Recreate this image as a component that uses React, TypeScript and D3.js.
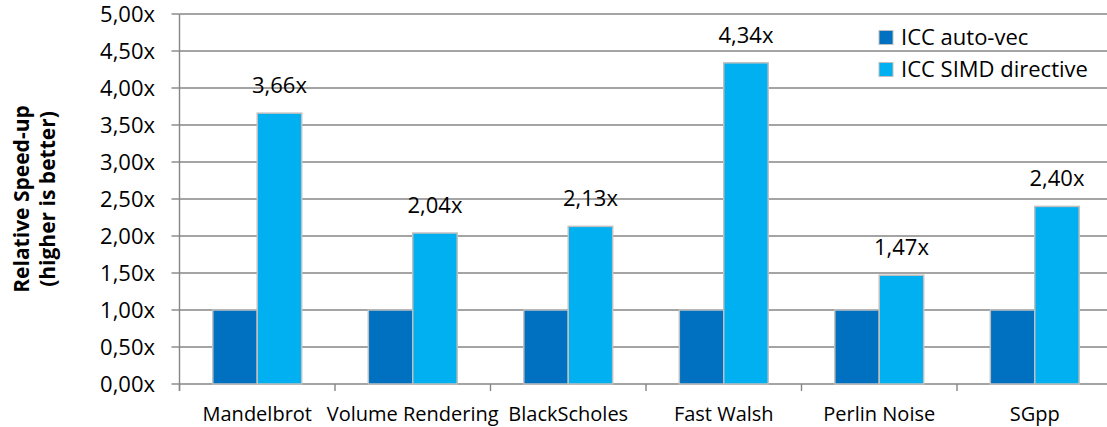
import React from 'react';
import * as d3 from 'd3';

const categories = ['Mandelbrot', 'Volume Rendering', 'BlackScholes', 'Fast Walsh', 'Perlin Noise', 'SGpp'];
const seriesNames = ['ICC auto-vec', 'ICC SIMD directive'];
const autoVec = [1, 1, 1, 1, 1, 1];
const simdDirective = [3.66, 2.04, 2.13, 4.34, 1.47, 2.4];
const yTicks = [0, 0.5, 1, 1.5, 2, 2.5, 3, 3.5, 4, 4.5, 5];

const colors = ['#0070C0', '#00B0F0'];
const FONT = '"Open Sans", "Noto Sans", sans-serif';

const fmt = (v: number) => v.toFixed(2).replace('.', ',') + 'x';

export default function App() {
  const width = 1107;
  const height = 427;
  const margin = { left: 179.5, right: 1112.5, top: 14, bottom: 384 };

  const x = d3.scaleBand<string>().domain(categories).range([margin.left, margin.right]).padding(0);
  const bw = x.bandwidth();
  const gap = (bw * 0.75) / 3.5;
  const inner = d3.scaleBand<string>().domain(seriesNames).range([gap, bw - gap]).padding(0);
  const y = d3.scaleLinear().domain([0, 5]).range([margin.bottom, margin.top]);

  const values = [autoVec, simdDirective];
  const boundaries = d3.range(categories.length + 1).map((i) => margin.left + i * bw);
  const axisColor = '#868686';

  return (
    <svg
      width={width}
      height={height}
      style={{ position: 'absolute', left: 0, top: 0, background: '#fff' }}
      fontFamily={FONT}
    >
      {/* gridlines */}
      {yTicks.map((t) => (
        <line key={'g' + t} x1={margin.left} x2={width} y1={y(t)} y2={y(t)} stroke={axisColor} strokeWidth={1.4} />
      ))}
      {/* y axis */}
      <line x1={margin.left} x2={margin.left} y1={margin.top} y2={margin.bottom + 7} stroke={axisColor} strokeWidth={1.4} />
      {yTicks.map((t) => (
        <g key={'t' + t}>
          <line x1={margin.left - 8} x2={margin.left} y1={y(t)} y2={y(t)} stroke={axisColor} strokeWidth={1.4} />
          <text x={155} y={y(t)} dy="0.36em" textAnchor="end" fontSize={22} fill="#000">
            {fmt(t)}
          </text>
        </g>
      ))}
      {/* x ticks */}
      {boundaries.map((b, i) => (
        <line key={'xb' + i} x1={b} x2={b} y1={margin.bottom} y2={margin.bottom + 7} stroke={axisColor} strokeWidth={1.4} />
      ))}
      {/* bars */}
      {categories.map((c, ci) => (
        <g key={c}>
          {seriesNames.map((s, si) => {
            const v = values[si][ci];
            const bx = (x(c) ?? 0) + (inner(s) ?? 0);
            return (
              <rect
                key={s}
                x={bx}
                y={y(v)}
                width={inner.bandwidth()}
                height={y(0) - y(v)}
                fill={colors[si]}
                stroke="#bfbfbf"
                strokeWidth={1.5}
              />
            );
          })}
          <text
            x={(x(c) ?? 0) + (inner(seriesNames[1]) ?? 0) + inner.bandwidth() / 2}
            y={y(simdDirective[ci]) - 20}
            textAnchor="middle"
            fontSize={22}
            fill="#000"
          >
            {fmt(simdDirective[ci])}
          </text>
          <text x={(x(c) ?? 0) + bw / 2} y={421} textAnchor="middle" fontSize={20} fill="#000">
            {c}
          </text>
        </g>
      ))}
      {/* legend */}
      {seriesNames.map((s, i) => (
        <g key={'l' + s} transform={`translate(879, ${37.5 + i * 32})`}>
          <rect x={0} y={-7} width={14} height={14} fill={colors[i]} stroke="#bfbfbf" strokeWidth={1} />
          <text x={22} y={0} dy="0.36em" fontSize={22} fill="#000">
            {s}
          </text>
        </g>
      ))}
      {/* y axis title */}
      <g transform={`translate(34, ${(margin.top + margin.bottom) / 2}) rotate(-90)`}>
        <text x={0} y={-5} textAnchor="middle" fontSize={21} fontWeight="bold" fill="#000">
          Relative Speed-up
        </text>
        <text x={0} y={21} textAnchor="middle" fontSize={21} fontWeight="bold" fill="#000">
          (higher is better)
        </text>
      </g>
    </svg>
  );
}
